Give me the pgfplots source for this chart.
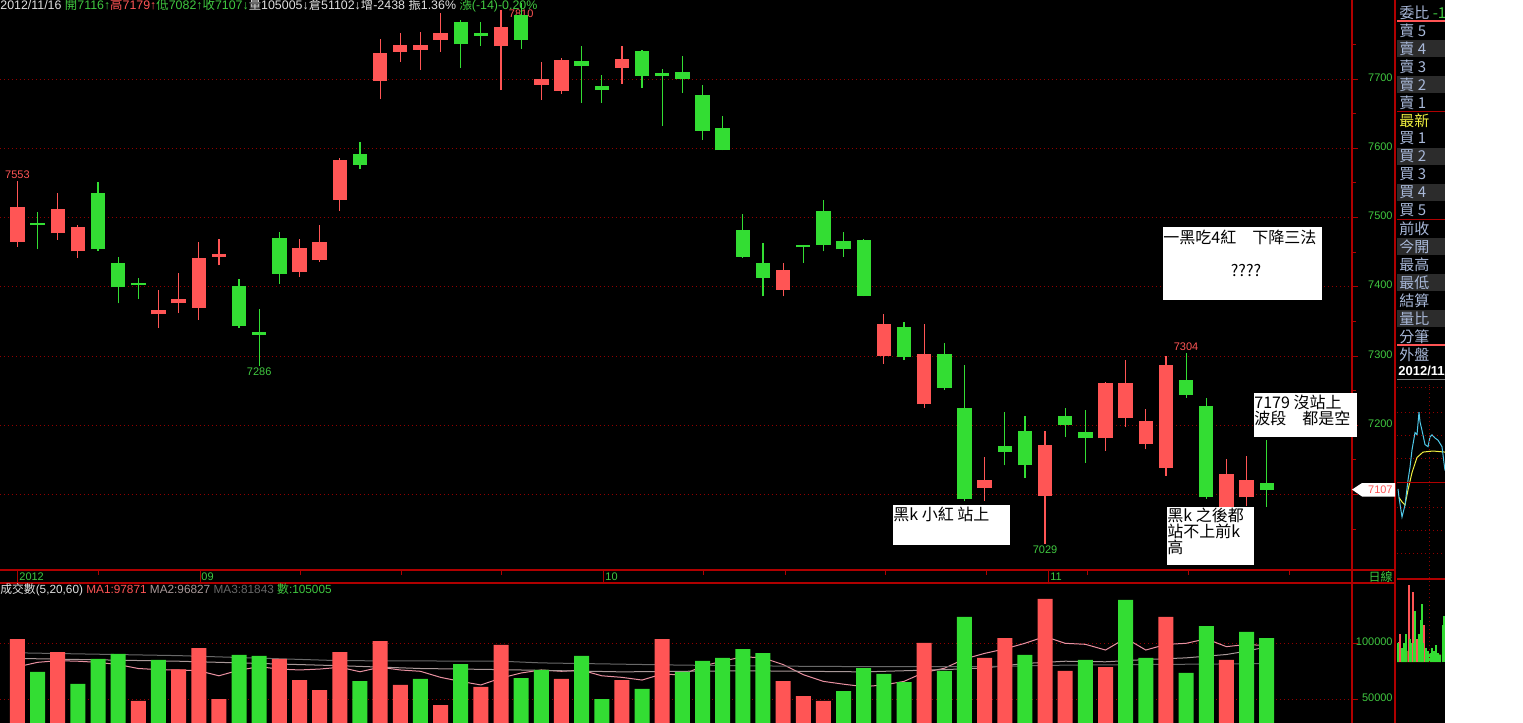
\documentclass[border=0pt]{standalone}
\usepackage{pgfplots}
\pgfplotsset{compat=1.18}
\usepackage{pgfplotstable}
\usepackage{fontspec}
\setmainfont{Liberation Sans}
\newfontfamily\cjk{Noto Sans CJK TC}
\definecolor{kred}{HTML}{FF5555}
\definecolor{kgreen}{HTML}{33DD33}
\definecolor{axred}{HTML}{B00000}
\definecolor{gridred}{HTML}{900000}
\definecolor{lbl}{HTML}{40C840}
\definecolor{side}{HTML}{A8B8D8}
\definecolor{rowgray}{HTML}{2C2C2C}
\definecolor{hdrw}{HTML}{E0E0E0}
\definecolor{maone}{HTML}{E890A0}
\definecolor{matwo}{HTML}{A89898}
\definecolor{mathree}{HTML}{686868}
\definecolor{cyanl}{HTML}{50C8E8}
\definecolor{yel}{HTML}{F0F040}
\newcommand\sm{\fontsize{5.5pt}{6pt}\selectfont}
\newcommand\hd{\fontsize{6.2pt}{6.5pt}\selectfont}
\newcommand\ann{\cjk\fontsize{8pt}{8pt}\selectfont}

% candles: index, open, high, low, close
\pgfplotstableread{
i o h l c
0 7465 7553 7458 7515
2 7477 7535 7468 7512
3 7451 7489 7442 7486
7 7360 7395 7341 7366
8 7376 7420 7362 7382
9 7370 7465 7352 7441
10 7443 7469 7431 7447
14 7422 7469 7414 7456
15 7438 7489 7436 7465
16 7525 7586 7510 7583
18 7697 7758 7671 7738
19 7739 7766 7725 7749
20 7742 7768 7713 7749
21 7757 7795 7739 7766
24 7747 7800 7684 7775
26 7692 7725 7670 7700
27 7683 7730 7679 7727
30 7716 7748 7693 7729
38 7396 7434 7386 7424
43 7300 7360 7289 7346
45 7230 7346 7225 7303
48 7110 7154 7091 7121
51 7098 7192 7029 7172
54 7181 7263 7163 7261
55 7211 7294 7198 7261
56 7173 7224 7165 7206
57 7138 7300 7127 7287
60 7080 7151 7070 7130
61 7096 7156 7083 7121
}\redk
\pgfplotstableread{
i o h l c
1 7492 7508 7454 7489
4 7535 7551 7452 7454
5 7434 7443 7376 7399
6 7405 7412 7382 7402
11 7401 7411 7341 7344
12 7334 7368 7286 7331
13 7470 7479 7404 7419
17 7592 7609 7570 7576
22 7782 7785 7716 7750
23 7766 7782 7748 7762
25 7792 7810 7744 7757
28 7726 7748 7666 7719
29 7690 7706 7666 7684
31 7740 7742 7687 7704
32 7708 7714 7632 7705
33 7710 7733 7680 7700
34 7677 7691 7612 7625
35 7629 7647 7597 7597
36 7482 7505 7442 7443
37 7434 7463 7386 7413
39 7460 7461 7435 7457
40 7509 7525 7451 7460
41 7466 7479 7443 7454
42 7468 7469 7386 7387
44 7342 7349 7294 7299
46 7303 7319 7251 7254
47 7225 7287 7090 7093
49 7170 7219 7142 7162
50 7192 7213 7124 7142
52 7213 7225 7183 7200
53 7190 7222 7146 7181
58 7265 7304 7240 7244
59 7228 7240 7094 7096
62 7116 7179 7082 7107
}\greenk
\pgfplotstableread{
i v
0 103800
2 92200
6 48500
8 76800
9 95800
10 50200
13 86000
14 67200
15 58300
16 92200
18 102000
19 62800
21 44900
23 61000
24 98500
27 68200
30 67200
32 103800
38 66300
39 52900
40 48500
45 100300
48 86900
49 104700
51 139600
52 75300
54 78800
57 123500
60 85100
}\redv
\pgfplotstableread{
i v
1 74400
3 63700
4 86000
5 90500
7 85100
11 89600
12 88700
17 66300
20 68200
22 81500
25 69000
26 76200
28 88700
29 50200
31 59200
33 74400
34 84200
35 86900
36 94900
37 91300
41 57400
42 77900
43 72600
44 65400
46 75300
47 123500
50 89600
53 85100
55 138700
56 86900
58 73500
59 115400
61 110100
62 104700
}\greenv
\pgfplotstableread{
i v
0 79000
1 83000
2 84500
3 84000
4 83000
5 81000
6 77500
7 76500
8 76200
9 75500
10 71000
11 76000
12 79100
13 77000
14 76200
15 77000
16 78600
17 74600
18 78600
19 76200
20 75000
21 69600
22 66000
23 62800
24 69000
25 73500
26 76200
27 75000
28 76000
29 71000
30 69600
31 67200
32 72600
33 71700
34 79700
35 84000
36 88000
37 87000
38 81000
39 72000
40 66000
41 63500
42 61300
43 62800
44 66000
45 74000
46 77700
47 86000
48 91000
49 95000
50 100000
51 106000
52 100000
53 99100
54 94000
55 104500
56 94000
57 99000
58 100000
59 104000
60 97000
61 99000
62 97871
}\maonet
\pgfplotstableread{
i v
0 86500
8 84000
16 80000
20 77500
24 76500
30 74500
36 75500
42 74500
46 76500
48 78000
50 82000
52 84000
54 83500
56 85500
58 87000
60 90000
61 93000
62 96827
}\matwot
\pgfplotstableread{
i v
0 91500
8 89000
16 84500
24 84000
26 82500
33 80500
40 79300
48 79200
52 80500
62 81843
}\mathreet

\pgfplotsset{
  wick/.style={mark=none, draw=none, forget plot, error bars/.cd, y dir=plus, y explicit, error mark=none, error bar style={draw=#1, solid, line cap=butt, line width=0.6pt}},
  body/.style={mark=none, draw=none, forget plot, error bars/.cd, y dir=plus, y explicit, error mark=none, error bar style={draw=#1, solid, line cap=butt, line width=7.2pt}},
  panel/.style={scale only axis, width=676pt, xmin=-0.8635, xmax=66.233,
    axis x line=none, axis y line*=right,
    axis line style={draw=axred, line width=0.75pt},
    tick style={draw=axred, line width=0.5pt}, tick align=outside,
    major tick length=3pt, minor tick length=2pt,
    ymajorgrids, grid style={draw=gridred, dash pattern=on 0.6pt off 1.4pt, line width=0.5pt},
    yticklabels={}, scaled y ticks=false, clip=true},
}

\begin{document}
\begin{tikzpicture}
\useasboundingbox (0,0) rectangle (761.5pt,-361.5pt);
\fill[black] (0,0) rectangle (722.5pt,-361.5pt);

% ---------- sidebar backgrounds ----------
\begin{scope}[x=0.5pt,y=-0.5pt]
\foreach \a/\b in {40/57,76/93,148/165,184/201,238/255,274/291,310/327}{\fill[rowgray] (1397,\a) rectangle (1445,\b);}
\end{scope}

% ---------- price panel ----------
\begin{axis}[panel, at={(0pt,0pt)}, anchor=north west, height=285pt,
  ymin=6990.97, ymax=7814.08,
  ytick={7100,7200,...,7700}, minor ytick={7050,7150,...,7750}]
\node[text=kred, font=\sm, inner sep=0pt] at (axis cs:25,7794) {7810};
\addplot[wick=kred] table[x=i, y=l, y error expr=\thisrow{h}-\thisrow{l}] {\redk};
\addplot[wick=kgreen] table[x=i, y=l, y error expr=\thisrow{h}-\thisrow{l}] {\greenk};
\addplot[body=kred] table[x=i, y=o, y error expr=\thisrow{c}-\thisrow{o}] {\redk};
\addplot[body=kgreen] table[x=i, y=c, y error expr=\thisrow{o}-\thisrow{c}] {\greenk};
\node[text=kred, font=\sm, anchor=south, inner sep=1pt] at (axis cs:0,7553) {7553};
\node[text=lbl, font=\sm, anchor=north, inner sep=1pt] at (axis cs:12,7286) {7286};
\node[text=lbl, font=\sm, anchor=north, inner sep=1pt] at (axis cs:51,7029) {7029};
\node[text=kred, font=\sm, anchor=south, inner sep=1pt] at (axis cs:58,7304) {7304};
\end{axis}

% ---------- volume panel ----------
\begin{axis}[panel, at={(0pt,-291.5pt)}, anchor=north west, height=70pt,
  ymin=28837, ymax=153840,
  ytick={50000,100000}]
\addplot[maone, line width=0.5pt, mark=none] table[x=i,y=v] {\maonet};
\addplot[matwo, line width=0.5pt, mark=none] table[x=i,y=v] {\matwot};
\addplot[mathree, line width=0.5pt, mark=none] table[x=i,y=v] {\mathreet};
\addplot[ybar, bar width=7.5pt, bar shift=0pt, fill=kred, draw=none] table[x=i,y=v] {\redv};
\addplot[ybar, bar width=7.5pt, bar shift=0pt, fill=kgreen, draw=none] table[x=i,y=v] {\greenv};
\end{axis}

% ---------- mini intraday chart ----------
\begin{axis}[at={(698.5pt,-192.5pt)}, anchor=north west, scale only axis, width=24pt, height=97pt,
  xmin=0, xmax=48, ymin=7024.7, ymax=7204, hide axis, clip=true]
\addplot[yel, line width=0.5pt, mark=none] coordinates {(2,7100)(5,7096)(8,7093)(11,7107)(15,7123)(20,7137)(26,7142)(36,7143)(48,7142)};
\addplot[cyanl, line width=0.5pt, mark=none] coordinates {(1,7108)(2,7100)(5,7082)(8,7093)(11,7116)(13,7128)(15,7144)(18,7160)(20,7158)(22,7179)(23,7170)(25,7162)(28,7149)(31,7147)(33,7156)(35,7158)(38,7155)(41,7153)(43,7150)(45,7147)(47,7132)(48,7125)};
\end{axis}
\begin{axis}[at={(698.5pt,-292.5pt)}, anchor=north west, scale only axis, width=24pt, height=38.5pt,
  xmin=0, xmax=48, ymin=0, ymax=83, hide axis, clip=true]
\addplot[fill=olive!80!black, draw=none] coordinates {(0,0)(0,14)(10,12)(25,10)(44,8)(44,0)} -- cycle;
\addplot[ycomb, kred, line width=0.6pt, mark=none] coordinates {(3,30)(12,83)(16,75)(20,25)(27,40)(2,22)};
\addplot[ycomb, kgreen, line width=0.6pt, mark=none] coordinates {(1,20)(5,15)(7,20)(9,30)(13,25)(14,20)(17,20)(18,55)(22,30)(24,45)(25,62)(26,20)(29,15)(31,12)(33,10)(35,15)(37,12)(39,18)(41,10)(43,8)(46,40)(47,50)};
\end{axis}

\begin{scope}[x=0.5pt,y=-0.5pt]
% frame lines
\draw[axred, line width=0.75pt] (0,570) -- (1395,570);
\draw[axred, line width=0.75pt] (0,583) -- (1395,583);
\draw[axred, line width=0.75pt] (1352,0) -- (1352,723);
\draw[axred, line width=1pt] (1395,0) -- (1395,723);
% right axis labels
\foreach \v/\yy in {7700/77.5,7600/146.7,7500/216,7400/285.2,7300/354.5,7200/423.7,7100/493}
  {\node[anchor=east, inner sep=0, font=\sm, text=lbl] at (1393,\yy) {\v};}
\node[anchor=east, inner sep=0, font=\sm, text=lbl] at (1393,642) {100000};
\node[anchor=east, inner sep=0, font=\sm, text=lbl] at (1393,698) {50000};
% date band ticks
\foreach \xx in {98,300,401,501,703,785,885,986,1087,1188,1289}{\draw[axred, line width=0.5pt] (\xx,570) -- (\xx,575);}
\foreach \xx in {17,200,603,1048}{\draw[axred, line width=0.5pt] (\xx,570) -- (\xx,583);}
\node[anchor=west, inner sep=0, font=\sm, text=lbl] at (19,577) {2012};
\node[anchor=west, inner sep=0, font=\sm, text=lbl] at (201,577) {09};
\node[anchor=west, inner sep=0, font=\sm, text=lbl] at (605,577) {10};
\node[anchor=west, inner sep=0, font=\sm, text=lbl] at (1050,577) {11};
\node[anchor=east, inner sep=0, text=lbl] at (1393,577) {\cjk\fontsize{6pt}{6pt}\selectfont 日線};
% headers
\node[anchor=west, inner sep=0, font=\hd] at (0,6) {{\color{hdrw}2012/11/16} {\color{lbl}{\cjk 開}7116↑}{\color{kred}{\cjk 高}7179↑}{\color{lbl}{\cjk 低}7082↑}{\color{lbl}{\cjk 收}7107↓}{\color{hdrw}{\cjk 量}105005↓{\cjk 倉}51102↓{\cjk 增}-2438 {\cjk 振}1.36\%} {\color{lbl}{\cjk 漲}(-14)-0.20\%}};
\node[anchor=west, inner sep=0, font=\fontsize{5.9pt}{6pt}\selectfont] at (0,590) {{\color{hdrw}{\cjk 成交數}(5,20,60)} {\color{kred}MA1:97871} {\color{matwo}MA2:96827} {\color{mathree}MA3:81843} {\color{lbl}{\cjk 數}:105005}};
% current price tag
\fill[white] (1352,489.6) -- (1362,483) -- (1395,483) -- (1395,496.5) -- (1362,496.5) -- cycle;
\node[anchor=east, inner sep=0, font=\sm, text=kred] at (1393,489.6) {7107};
% annotation boxes
\fill[white] (1163,227) rectangle (1322,300);
\node[anchor=north west, inner sep=0, font=\ann] at (1163,230) {一黑吃4紅　下降三法};
\node[inner sep=0, font=\ann] at (1246,271) {????};
\fill[white] (893,505) rectangle (1010,545);
\node[anchor=north west, inner sep=0, font=\ann] at (893,507) {黑k 小紅 站上};
\fill[white] (1167,507) rectangle (1254,565);
\node[anchor=north west, inner sep=0, font=\ann, align=left] at (1167,508) {黑k 之後都\\站不上前k\\高};
\fill[white] (1254,393) rectangle (1357,437);
\node[anchor=north west, inner sep=0, font=\ann, align=left] at (1254,395) {7179 沒站上\\波段　都是空};
% sidebar texts
\foreach \t/\yy in {賣 5/30.5,賣 4/48.5,賣 3/66.5,賣 2/84.5,賣 1/102.5,買 1/138.5,買 2/156.5,買 3/174.5,買 4/192.5,買 5/210.5,前收/228.5,今開/246.5,最高/264.5,最低/282.5,結算/300.5,量比/318.5,分筆/336.5,外盤/354.5}
  {\node[anchor=west, inner sep=0, text=side] at (1399,\yy) {\cjk\fontsize{7.5pt}{7.5pt}\selectfont \t};}
\node[anchor=west, inner sep=0, text=side] at (1399,12.5) {\cjk\fontsize{7.5pt}{7.5pt}\selectfont 委比 \textcolor{lbl}{-1}};
\node[anchor=west, inner sep=0, text=yel] at (1399,120.5) {\cjk\fontsize{7.5pt}{7.5pt}\selectfont 最新};
\node[anchor=west, inner sep=0, text=white] at (1398,371) {\fontsize{6.5pt}{6.5pt}\selectfont\bfseries 2012/11/16};
\draw[kred, line width=1pt] (1397,21) -- (1445,21);
\draw[axred, line width=0.5pt] (1397,111) -- (1445,111);
\draw[axred, line width=0.5pt] (1397,219) -- (1445,219);
\draw[kred, line width=1pt] (1397,345) -- (1445,345);
\draw[gray, line width=0.5pt] (1397,379) -- (1445,379);
% mini chart grid
\foreach \yy in {387,412,435,458,507,530,553}{\draw[gridred, dash pattern=on 0.6pt off 1.4pt, line width=0.5pt] (1397,\yy) -- (1445,\yy);}
\draw[axred, line width=0.5pt] (1397,482) -- (1445,482);
\draw[axred, line width=0.75pt] (1397,579) -- (1445,579);
\draw[gridred, dash pattern=on 0.6pt off 1.4pt, line width=0.5pt] (1429,385) -- (1429,662);
\end{scope}
\fill[white] (722.5pt,0) rectangle (761.5pt,-361.5pt);
\end{tikzpicture}
\end{document}
